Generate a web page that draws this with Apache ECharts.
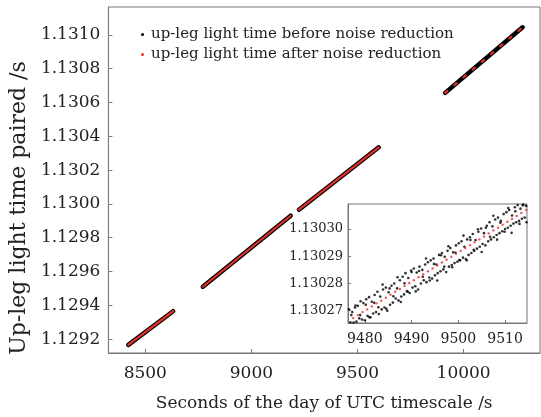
<!DOCTYPE html>
<html><head><meta charset="utf-8">
<script src="https://cdn.jsdelivr.net/npm/echarts@6/dist/echarts.min.js"></script>
<style>html,body{margin:0;padding:0;background:#fff}#c{width:541px;height:417px}</style>
</head><body><div id="c"></div>
<script>
// ---- data ----
const nameBefore = 'up-leg light time before noise reduction';
const nameAfter = 'up-leg light time after noise reduction';
const xTicks = [8500, 9000, 9500, 10000];
const yTicks = [1.1292, 1.1294, 1.1296, 1.1298, 1.1300, 1.1302, 1.1304, 1.1306, 1.1308, 1.1310];
const insetXTicks = [9480, 9490, 9500, 9510];
const insetYTicks = [1.13027, 1.13028, 1.13029, 1.13030];
// main-plot pass segments (start / end of each tracking arc)
const segStartT = [8420, 8771, 9224, 9913];
const segStartV = [1.129166, 1.129510, 1.129966, 1.130657];
const segEndT = [8631, 9185, 9600, 10278];
const segEndV = [1.129365, 1.129930, 1.130335, 1.131045];
// inset: raw (before) points
const insetBlackT = [9476.6,9476.9,9477.3,9477.6,9477.9,9478.2,9478.5,9478.8,9479.1,9479.4,9479.7,
9480.0,9480.3,9480.6,9480.9,9481.2,9481.5,9481.8,9482.1,9482.4,9482.7,9483.0,9483.3,9483.6,9483.9,
9484.2,9484.5,9484.8,9485.1,9485.4,9485.7,9486.0,9486.3,9486.6,9486.9,9487.2,9487.5,9487.8,
9488.1,9488.4,9488.7,9489.0,9489.3,9489.6,9489.9,9490.2,9490.5,9490.8,9491.1,9491.4,9491.7,
9492.0,9492.3,9492.6,9492.9,9493.2,9493.5,9493.8,9494.1,9494.4,9494.7,9495.0,9495.3,9495.6,9495.9,
9496.2,9496.5,9496.8,9497.1,9497.4,9497.7,9498.0,9498.3,9498.6,9498.9,9499.2,9499.5,9499.8,
9500.1,9500.4,9500.7,9501.0,9501.3,9501.6,9501.9,9502.2,9502.5,9502.8,9503.1,9503.4,9503.7,
9504.0,9504.3,9504.6,9504.9,9505.2,9505.5,9505.8,9506.1,9506.4,9506.7,9507.0,9507.3,9507.6,9507.9,
9508.2,9508.5,9508.8,9509.1,9509.4,9509.7,9510.0,9510.3,9510.6,9510.9,9511.2,9511.5,9511.8,
9512.1,9512.4,9512.7,9513.0,9513.3,9513.6,9513.9,9514.2,9514.5,
9477.1,9478.0,9479.0,9480.2,9481.0,9482.0,9482.9,9483.8,9484.6,9485.3,9486.1,9487.0,9487.7,
9488.5,9489.2,9490.0,9490.9,9491.6,9492.4,9493.1,9493.9,9494.8,9495.5,9496.3,9497.0,9497.9,
9498.7,9499.4,9500.2,9501.1,9501.8,9502.6,9503.3,9504.2,9505.0,9505.9,9506.8,9507.5,9508.3,
9509.0,9509.9,9510.7,9511.4,9512.2,9513.1,9513.8,9514.6];
const insetBlackV = [1.1302705,1.1302658,1.1302695,1.1302657,1.1302712,1.1302660,1.1302718,1.1302672,1.1302735,1.1302668,1.1302728,
1.1302665,1.1302742,1.1302681,1.1302750,1.1302676,1.1302733,1.1302690,1.1302758,1.1302695,1.1302770,1.1302688,1.1302752,1.1302705,1.1302778,
1.1302712,1.1302785,1.1302700,1.1302768,1.1302722,1.1302792,1.1302730,1.1302800,1.1302745,1.1302782,1.1302738,1.1302812,1.1302752,
1.1302825,1.1302760,1.1302838,1.1302772,1.1302820,1.1302765,1.1302848,1.1302785,1.1302855,1.1302790,1.1302840,1.1302778,1.1302862,
1.1302800,1.1302850,1.1302812,1.1302870,1.1302805,1.1302878,1.1302822,1.1302885,1.1302818,1.1302892,1.1302830,1.1302870,1.1302838,1.1302905,
1.1302845,1.1302912,1.1302852,1.1302898,1.1302842,1.1302920,1.1302862,1.1302930,1.1302868,1.1302915,1.1302875,1.1302940,1.1302880,
1.1302948,1.1302885,1.1302955,1.1302895,1.1302935,1.1302890,1.1302962,1.1302905,1.1302970,1.1302912,1.1302982,1.1302920,1.1302960,
1.1302928,1.1302990,1.1302935,1.1303002,1.1302945,1.1302985,1.1302940,1.1303012,1.1302955,1.1303025,1.1302962,1.1303010,1.1302970,1.1303035,
1.1302978,1.1303042,1.1302985,1.1303030,1.1302992,1.1303055,1.1303000,1.1303062,1.1303005,1.1303070,1.1303012,1.1303050,1.1303020,
1.1303080,1.1303025,1.1303088,1.1303030,1.1303075,1.1303038,1.1303090,1.1303042,1.1303085,
1.1302684,1.1302719,1.1302684,1.1302722,1.1302676,1.1302729,1.1302713,1.1302796,1.1302707,1.1302782,1.1302753,1.1302823,1.1302732,
1.1302801,1.1302770,1.1302842,1.1302771,1.1302846,1.1302825,1.1302892,1.1302811,1.1302872,1.1302811,1.1302904,1.1302862,1.1302937,
1.1302860,1.1302913,1.1302886,1.1302976,1.1302885,1.1302960,1.1302924,1.1302999,1.1302916,1.1303005,1.1302972,1.1303049,1.1302961,
1.1303023,1.1302990,1.1303077,1.1302986,1.1303065,1.1303019,1.1303087,1.1303025];
// inset: noise-reduced (after) points
const insetRedT = [9477.5,9478.5,9479.5,9480.5,9481.5,9482.5,9483.5,9484.5,9485.5,9486.5,9487.5,9488.5,9489.5,
9490.5,9491.5,9492.5,9493.5,9494.5,9495.5,9496.5,9497.5,9498.5,9499.5,9500.5,9501.5,9502.5,9503.5,9504.5,
9505.5,9506.5,9507.5,9508.5,9509.5,9510.5,9511.5,9512.5,9513.5,9514.5];
const insetRedV = [1.1302673,1.1302684,1.1302695,1.1302705,1.1302716,1.1302727,1.1302737,1.1302748,1.1302759,1.1302770,1.1302780,1.1302791,1.1302802,
1.1302812,1.1302823,1.1302834,1.1302845,1.1302855,1.1302866,1.1302877,1.1302887,1.1302898,1.1302909,1.1302920,1.1302930,1.1302941,1.1302952,1.1302962,
1.1302973,1.1302984,1.1302995,1.1303005,1.1303016,1.1303027,1.1303037,1.1303048,1.1303059,1.1303070];

// ---- chart ----
const FONT = 'DejaVu Serif';
const TXT = '#222';
const AX = '#777';
const RED = '#e5302a';

const segLines = (color, w, dash) => segStartT.map((t, i) => ({
  name: i === 0 ? (color === RED ? nameAfter : nameBefore) : undefined,
  type: 'line', xAxisIndex: 0, yAxisIndex: 0,
  data: [[t, segStartV[i]], [segEndT[i], segEndV[i]]],
  symbol: 'none', silent: true, animation: false,
  lineStyle: { color: color, width: w, cap: 'round', type: (dash && i === 3) ? [3, 9] : 'solid' },
  itemStyle: { color: color },
  z: color === RED ? 3 : 2
}));

const option = {
  animation: false,
  backgroundColor: '#fff',
  grid: [
    { left: 107, top: 7, right: 1, bottom: 63, show: true, borderColor: AX, borderWidth: 1, containLabel: false },
    { left: 348, top: 204, right: 14, bottom: 94, show: true, borderColor: AX, borderWidth: 1, backgroundColor: '#fff', containLabel: false, z: 5 }
  ],
  legend: {
    left: 136, top: 22, orient: 'vertical', itemGap: 5, itemWidth: 3, itemHeight: 3,
    textStyle: { fontFamily: FONT, color: TXT, fontSize: 15, padding: [0, 0, 0, 2] },
    data: [{ name: nameBefore, icon: 'circle', itemStyle: { color: '#000' } },
           { name: nameAfter, icon: 'circle', itemStyle: { color: RED } }]
  },
  xAxis: [
    {
      type: 'value', gridIndex: 0, min: 8326, max: 10360,
      name: 'Seconds of the day of UTC timescale /s', nameLocation: 'middle', nameGap: 42,
      nameTextStyle: { fontFamily: FONT, color: TXT, fontSize: 17 },
      axisLine: { show: true, lineStyle: { color: AX, width: 1 } },
      axisTick: { show: true, inside: true, length: 4, lineStyle: { color: AX }, customValues: xTicks },
      axisLabel: { fontFamily: FONT, color: TXT, fontSize: 17, margin: 12, customValues: xTicks, formatter: v => String(v) },
      splitLine: { show: false }
    },
    {
      type: 'value', gridIndex: 1, min: 9476.4, max: 9514.7,
      axisLine: { show: true, lineStyle: { color: AX } },
      axisTick: { show: true, inside: true, length: 3, lineStyle: { color: AX }, customValues: insetXTicks },
      axisLabel: { fontFamily: FONT, color: TXT, fontSize: 14, margin: 9, customValues: insetXTicks, formatter: v => String(v) },
      splitLine: { show: false }, z: 6
    }
  ],
  yAxis: [
    {
      type: 'value', gridIndex: 0, min: 1.129118, max: 1.131165,
      name: 'Up-leg light time paired /s', nameLocation: 'middle', nameGap: 70, nameRotate: 90,
      nameTextStyle: { fontFamily: FONT, color: TXT, fontSize: 22, padding: [0, 56, 0, 0] },
      axisLine: { show: true, lineStyle: { color: AX, width: 1 } },
      axisTick: { show: true, inside: true, length: 4, lineStyle: { color: AX }, customValues: yTicks },
      axisLabel: { fontFamily: FONT, color: TXT, fontSize: 17, margin: 8, customValues: yTicks, formatter: v => v.toFixed(4) },
      splitLine: { show: false }
    },
    {
      type: 'value', gridIndex: 1, min: 1.1302655, max: 1.1303092,
      axisLine: { show: true, lineStyle: { color: AX } },
      axisTick: { show: true, inside: true, length: 3, lineStyle: { color: AX }, customValues: insetYTicks },
      axisLabel: { fontFamily: FONT, color: TXT, fontSize: 13, margin: 5, customValues: insetYTicks, formatter: v => v.toFixed(5) },
      splitLine: { show: false }, z: 6
    }
  ],
  series: [].concat(
    segLines('#000', 4.5, false),
    segLines(RED, 2.2, true),
    [
      { name: nameBefore, type: 'scatter', xAxisIndex: 1, yAxisIndex: 1, symbolSize: 2.6,
        itemStyle: { color: '#000' }, clip: true, z: 7, silent: true,
        data: insetBlackT.map((t, i) => [t, insetBlackV[i]]) },
      { name: nameAfter, type: 'scatter', xAxisIndex: 1, yAxisIndex: 1, symbolSize: 2.4,
        itemStyle: { color: RED }, clip: true, z: 8, silent: true,
        data: insetRedT.map((t, i) => [t, insetRedV[i]]) }
    ]
  )
};
const chart = echarts.init(document.getElementById('c'), null, { renderer: 'canvas' });
chart.setOption(option);
</script></body></html>
